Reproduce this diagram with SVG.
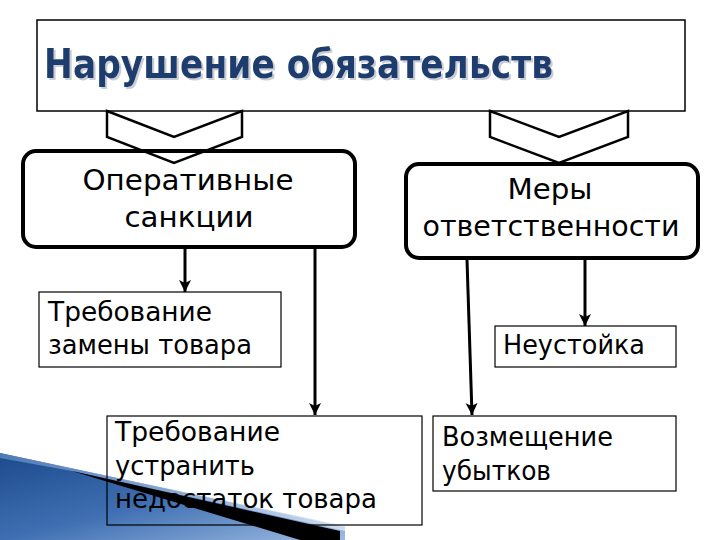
<svg xmlns="http://www.w3.org/2000/svg" width="720" height="540" viewBox="0 0 720 540">
<defs>
<style>
.t{font-family:"DejaVu Sans","Liberation Sans",sans-serif;fill:#000}
.big{font-size:29px}
.sm{font-size:26px}
.sbox{fill:#fff;stroke:#000;stroke-width:1.2}
.rbox{fill:#fff;stroke:#000;stroke-width:4}
.chev{fill:none;stroke:#000;stroke-width:2.5;stroke-linejoin:miter}
.conn{stroke:#000;stroke-width:3;fill:none}
</style>
<marker id="ah" markerUnits="userSpaceOnUse" markerWidth="14" markerHeight="14" refX="12" refY="6" orient="auto">
<path d="M0,0 L12,6 L0,12 L3,6 z" fill="#000"/>
</marker>
<linearGradient id="blue" x1="0" y1="0" x2="1" y2="1">
<stop offset="0" stop-color="#1c4a8c"/>
<stop offset="0.5" stop-color="#3f6fb2"/>
<stop offset="1" stop-color="#9dbbe2"/>
</linearGradient>
<linearGradient id="pale" x1="0" y1="0" x2="1" y2="0">
<stop offset="0" stop-color="#5a86c0"/>
<stop offset="1" stop-color="#dfe8f4"/>
</linearGradient>
<filter id="shadow" x="-5%" y="-20%" width="110%" height="150%">
<feFlood flood-color="#c9cdd6"/>
<feComposite in2="SourceAlpha" operator="in"/>
<feOffset dx="2" dy="2" result="sh"/>
<feMerge><feMergeNode in="sh"/><feMergeNode in="SourceGraphic"/></feMerge>
</filter>
</defs>
<rect width="720" height="540" fill="#fff"/>

<g id="decoration">
<polygon points="0,453 345,527 345,540 0,540" fill="url(#blue)"/>
<polygon points="0,453 345,526 345,531 72,471 0,458" fill="url(#pale)" opacity="0.8"/>
<polygon points="72,471 340,531 340,540 300,540" fill="#000"/>
</g>

<g id="title">
<rect x="37" y="20" width="648" height="91" fill="#fff" stroke="#000" stroke-width="1.5"/>
<text x="44" y="78" font-family="DejaVu Sans Condensed,DejaVu Sans,sans-serif" font-weight="bold" font-size="41" fill="#1f3d6e" textLength="509" lengthAdjust="spacingAndGlyphs" filter="url(#shadow)">Нарушение обязательств</text>
</g>

<g id="operative">
<rect class="rbox" x="23" y="151" width="332" height="96" rx="13"/>
<text class="t big" x="188" y="190" text-anchor="middle" textLength="211" lengthAdjust="spacingAndGlyphs">Оперативные</text>
<text class="t big" x="189" y="227" text-anchor="middle" textLength="129" lengthAdjust="spacingAndGlyphs">санкции</text>
</g>

<g id="measures">
<rect class="rbox" x="406" y="164" width="292" height="94" rx="13"/>
<text class="t big" x="550" y="199" text-anchor="middle" textLength="85" lengthAdjust="spacingAndGlyphs">Меры</text>
<text class="t big" x="551" y="236" text-anchor="middle" textLength="257" lengthAdjust="spacingAndGlyphs">ответственности</text>
</g>

<g id="chevrons">
<polygon class="chev" points="107,111 174,137 242,111 242,137 174,163 107,137"/>
<polygon class="chev" points="490,111 559,137 628,111 628,137 559,163 490,137"/>
</g>

<g id="replace">
<rect class="sbox" x="39" y="292" width="242" height="75"/>
<text class="t sm" x="48" y="321" textLength="164" lengthAdjust="spacingAndGlyphs">Требование</text>
<text class="t sm" x="48" y="354" textLength="204" lengthAdjust="spacingAndGlyphs">замены товара</text>
</g>

<g id="penalty">
<rect class="sbox" x="495" y="326" width="181" height="41"/>
<text class="t sm" x="503" y="354" textLength="142" lengthAdjust="spacingAndGlyphs">Неустойка</text>
</g>

<g id="fix">
<rect x="107" y="416" width="315" height="109" fill="none" stroke="#000" stroke-width="1.2"/>
<text class="t sm" x="115" y="441" textLength="165" lengthAdjust="spacingAndGlyphs">Требование</text>
<text class="t sm" x="115" y="475" textLength="140" lengthAdjust="spacingAndGlyphs">устранить</text>
<text class="t sm" x="115" y="508" textLength="262" lengthAdjust="spacingAndGlyphs" fill="#0a1430">недостаток товара</text>
</g>

<g id="damages">
<rect class="sbox" x="433" y="416" width="243" height="75"/>
<text class="t sm" x="442" y="446" textLength="171" lengthAdjust="spacingAndGlyphs">Возмещение</text>
<text class="t sm" x="442" y="480" textLength="109" lengthAdjust="spacingAndGlyphs">убытков</text>
</g>

<g id="connectors">
<line class="conn" x1="185" y1="249" x2="185" y2="292" marker-end="url(#ah)"/>
<line class="conn" x1="315" y1="249" x2="315" y2="415" marker-end="url(#ah)"/>
<line class="conn" x1="467" y1="260" x2="472" y2="415" marker-end="url(#ah)"/>
<line class="conn" x1="585" y1="260" x2="585" y2="326" marker-end="url(#ah)"/>
</g>
</svg>
